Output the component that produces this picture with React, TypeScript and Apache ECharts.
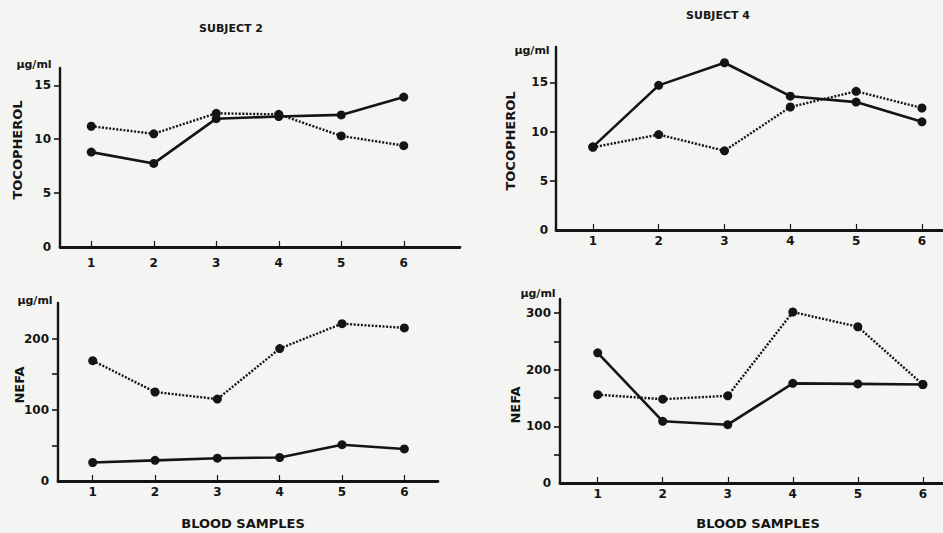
import React, { useEffect, useRef } from "react";
import * as echarts from "echarts";

const samples = [1, 2, 3, 4, 5, 6];

// Subject 2 – tocopherol (µg/ml)
const s2TocoSolid = [8.8, 7.75, 11.9, 12.1, 12.25, 13.9];
const s2TocoDotted = [11.2, 10.5, 12.4, 12.3, 10.3, 9.4];
// Subject 4 – tocopherol (µg/ml)
const s4TocoSolid = [8.45, 14.7, 17.0, 13.6, 13.0, 11.0];
const s4TocoDotted = [8.4, 9.7, 8.05, 12.5, 14.1, 12.4];
// Subject 2 – NEFA (µg/ml)
const s2NefaSolid = [26, 29, 32, 33, 51, 45];
const s2NefaDotted = [169, 125, 115, 186, 221, 215];
// Subject 4 – NEFA (µg/ml)
const s4NefaSolid = [230, 109, 103, 176, 175, 174];
const s4NefaDotted = [156, 148, 154, 302, 276, 174];

const tocoLabels = [0, 5, 10, 15];
const tocoTicks = [5, 10, 15];
const nefa2Labels = [0, 100, 200];
const nefa2Ticks = [50, 100, 150, 200];
const nefa4Labels = [0, 100, 200, 300];
const nefa4Ticks = [50, 100, 150, 200, 250, 300];

const INK = "#141414";
const FONT = "DejaVu Sans";

function pairs(vals: number[]) {
  return samples.map((s, i) => [s, vals[i]]);
}

function xAxis(gridIndex: number, min: number, max: number, margin: number) {
  return {
    type: "value",
    gridIndex,
    min,
    max,
    axisLine: { show: true, lineStyle: { color: INK, width: 2.8 } },
    axisTick: {
      show: true,
      inside: true,
      length: 6,
      customValues: samples,
      lineStyle: { color: INK, width: 1.2 },
    },
    axisLabel: {
      customValues: samples,
      margin,
      color: INK,
      fontFamily: FONT,
      fontWeight: "bold",
      fontSize: 12,
    },
    splitLine: { show: false },
  };
}

function yAxis(gridIndex: number, max: number, labels: number[], ticks: number[], margin: number) {
  return {
    type: "value",
    gridIndex,
    min: 0,
    max,
    axisLine: { show: true, lineStyle: { color: INK, width: 2.4 } },
    axisTick: {
      show: true,
      inside: false,
      length: 6,
      customValues: ticks,
      lineStyle: { color: INK, width: 1.6 },
    },
    axisLabel: {
      customValues: labels,
      margin,
      color: INK,
      fontFamily: FONT,
      fontWeight: "bold",
      fontSize: 12,
    },
    splitLine: { show: false },
  };
}

function line(idx: number, vals: number[], dotted: boolean) {
  return {
    type: "line",
    xAxisIndex: idx,
    yAxisIndex: idx,
    data: pairs(vals),
    symbol: "circle",
    symbolSize: 9,
    itemStyle: { color: INK },
    lineStyle: dotted
      ? { color: INK, width: 2.4, type: [2, 1.6] }
      : { color: INK, width: 2.6, type: "solid" },
    z: 3,
  };
}

function label(text: string, x: number, y: number, size: number, rotate = 0) {
  return {
    type: "text",
    x,
    y,
    rotation: rotate,
    style: {
      text,
      fill: INK,
      font: `bold ${size}px "${FONT}"`,
      align: "center",
      verticalAlign: "middle",
    },
  };
}

export default function App() {
  const ref = useRef<HTMLDivElement>(null);

  useEffect(() => {
    if (!ref.current) return;
    const chart = echarts.init(ref.current, undefined, { renderer: "svg" });
    chart.setOption({
      animation: false,
      backgroundColor: "#f4f4f2",
      grid: [
        { left: 60, top: 68, width: 400, height: 179 },
        { left: 556, top: 47, width: 387, height: 183 },
        { left: 58, top: 303, width: 380, height: 178 },
        { left: 560, top: 299, width: 383, height: 184 },
      ],
      xAxis: [
        xAxis(0, 0.5, 6.9, 10),
        xAxis(1, 0.44, 6.32, 5),
        xAxis(2, 0.443, 6.54, 5),
        xAxis(3, 0.42, 6.31, 5),
      ],
      yAxis: [
        yAxis(0, 16.6, tocoLabels, tocoTicks, 9),
        yAxis(1, 18.6, tocoLabels, tocoTicks, 8),
        yAxis(2, 250, nefa2Labels, nefa2Ticks, 9),
        yAxis(3, 325, nefa4Labels, nefa4Ticks, 9),
      ],
      series: [
        line(0, s2TocoSolid, false),
        line(0, s2TocoDotted, true),
        line(1, s4TocoSolid, false),
        line(1, s4TocoDotted, true),
        line(2, s2NefaSolid, false),
        line(2, s2NefaDotted, true),
        line(3, s4NefaSolid, false),
        line(3, s4NefaDotted, true),
      ],
      graphic: [
        label("SUBJECT 2", 231, 28, 11),
        label("SUBJECT 4", 718, 15, 11),
        label("µg/ml", 34, 64, 11),
        label("µg/ml", 532, 50, 11),
        label("µg/ml", 35, 300, 11),
        label("µg/ml", 538, 293, 11),
        label("TOCOPHEROL", 17, 150, 13, Math.PI / 2),
        label("TOCOPHEROL", 510, 141, 13, Math.PI / 2),
        label("NEFA", 19, 385, 13, Math.PI / 2),
        label("NEFA", 515, 405, 13, Math.PI / 2),
        label("BLOOD SAMPLES", 243, 523, 13),
        label("BLOOD SAMPLES", 758, 523, 13),
      ],
    });
    return () => chart.dispose();
  }, []);

  return (
    <div
      ref={ref}
      style={{ position: "absolute", left: 0, top: 0, width: 943, height: 533 }}
    />
  );
}
